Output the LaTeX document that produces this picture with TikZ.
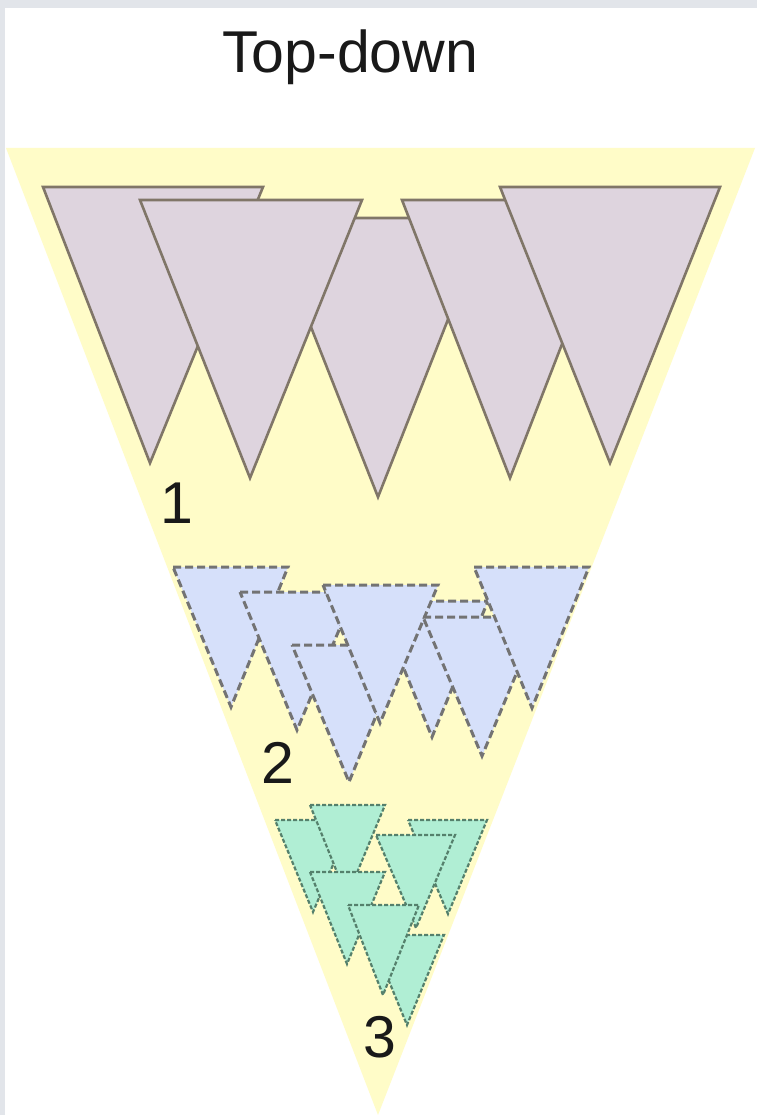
\documentclass[tikz,border=0pt]{standalone}
\usepackage{fontspec}
\setmainfont{Liberation Sans}
\definecolor{bggray}{RGB}{226,229,234}
\definecolor{yellowfill}{RGB}{255,252,200}
\definecolor{purplefill}{RGB}{222,212,222}
\definecolor{purplestroke}{RGB}{128,118,104}
\definecolor{bluefill}{RGB}{214,224,250}
\definecolor{bluestroke}{RGB}{115,115,115}
\definecolor{greenfill}{RGB}{176,238,212}
\definecolor{greenstroke}{RGB}{85,128,108}
\begin{document}
\begin{tikzpicture}[x=1pt,y=-1pt,
  lvlone/.style={fill=purplefill, draw=purplestroke, line width=2.6pt},
  lvltwo/.style={fill=bluefill, draw=bluestroke, line width=3pt, dash pattern=on 8pt off 4pt},
  lvlthree/.style={fill=greenfill, draw=greenstroke, line width=2.2pt, dash pattern=on 4pt off 2pt},
  lbl/.style={font=\fontsize{59}{60}\selectfont, inner sep=0pt, anchor=base, text=black!90}]
\useasboundingbox (0,0) rectangle (757,1115);
\fill[bggray] (0,0) rectangle (757,1115);
\fill[white] (5,8) rectangle (757,1115);
% big yellow triangle
\fill[yellowfill] (6,148) -- (755,148) -- (378,1115) -- cycle;
% level 1
\path[lvlone] (43,187) -- (263,187) -- (150,463) -- cycle;
\path[lvlone] (268,218) -- (488,218) -- (378,497) -- cycle;
\path[lvlone] (140,200) -- (362,200) -- (250,478) -- cycle;
\path[lvlone] (402,200) -- (618,200) -- (510,478) -- cycle;
\path[lvlone] (500,187) -- (720,187) -- (610,463) -- cycle;
% level 2
\path[lvltwo] (173,567) -- (288,567) -- (231,707) -- cycle;
\path[lvltwo] (240,592) -- (355,592) -- (297,730) -- cycle;
\path[lvltwo] (292,645) -- (405,645) -- (349,782) -- cycle;
\path[lvltwo] (376,601) -- (488,601) -- (432,737) -- cycle;
\path[lvltwo] (323,585) -- (438,585) -- (380,723) -- cycle;
\path[lvltwo] (423,617) -- (540,617) -- (482,756) -- cycle;
\path[lvltwo] (474,567) -- (589,567) -- (532,708) -- cycle;
% level 3
\path[lvlthree] (275,820) -- (352,820) -- (313,912) -- cycle;
\path[lvlthree] (310,805) -- (385,805) -- (347,897) -- cycle;
\path[lvlthree] (310,872) -- (385,872) -- (347,964) -- cycle;
\path[lvlthree] (408,820) -- (487,820) -- (448,914) -- cycle;
\path[lvlthree] (376,835) -- (455,835) -- (416,928) -- cycle;
\path[lvlthree] (370,935) -- (444,935) -- (407,1025) -- cycle;
\path[lvlthree] (348,905) -- (419,905) -- (383,995) -- cycle;
% labels
\node[lbl, anchor=base west] (title) at (222,73) {Top-down};
\node[lbl] (one) at (177,523) {1};
\node[lbl] (two) at (278,783) {2};
\node[lbl] (three) at (380,1057) {3};
\end{tikzpicture}
\end{document}
